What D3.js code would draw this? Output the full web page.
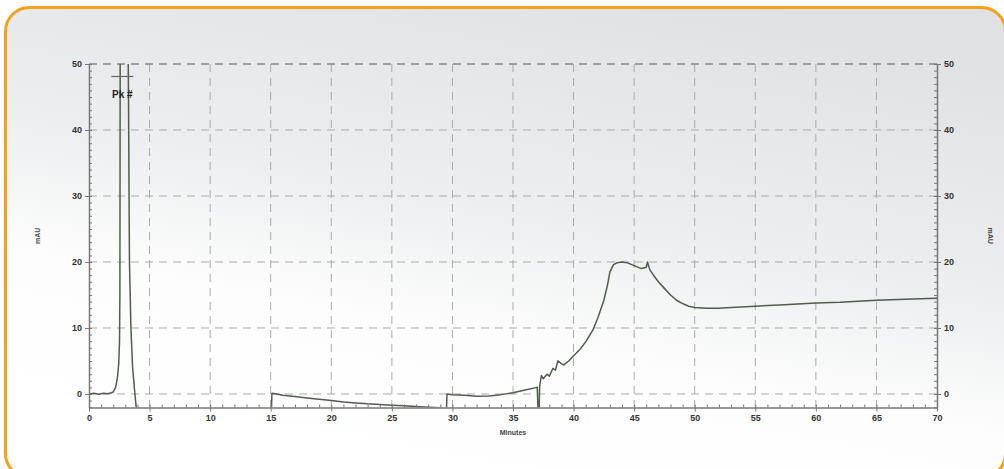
<!DOCTYPE html>
<html>
<head>
<meta charset="utf-8">
<script src="https://cdn.jsdelivr.net/npm/d3@7"></script>
<style>
  html, body { margin: 0; padding: 0; background: #fff; }
  svg { display: block; }
</style>
</head>
<body>
<svg id="chart" width="1004" height="469"></svg>
<script>
// chromatogram trace (minutes, mAU)
const minutes = [
  0, 0.4, 0.8, 1.2, 1.5, 1.8, 2.0, 2.2, 2.35, 2.45, 2.52, 2.55, 2.58,
  3.2, 3.26, 3.34, 3.46, 3.6, 3.79, 3.95,
  15.05, 15.1, 15.5, 16, 17, 18, 19, 20, 21, 22, 23, 24, 25, 26, 27, 28, 29,
  29.5, 29.55, 30, 31, 32, 33, 34, 35, 36, 37.0, 37.08, 37.15,
  37.2, 37.35, 37.5, 37.8, 38.0, 38.3, 38.5, 38.7, 39.0, 39.2, 39.6, 40.0,
  40.5, 41.0, 41.6, 42.0, 42.5, 42.8, 43.0, 43.3, 43.6, 44.0, 44.4, 44.8,
  45.2, 45.6, 46.0, 46.1, 46.3, 46.6, 47.0, 47.5, 48.0, 48.5, 49.0, 49.5,
  50, 51, 52, 53, 55, 57, 60, 62, 65, 68, 70,
];
const mAU = [
  0.0, 0.1, -0.05, 0.1, 0.05, 0.15, 0.3, 1.0, 2.5, 4.5, 8, 15, 60,
  60, 45, 20, 10, 4, 0, -3,
  -3, 0.1, 0.0, -0.2, -0.4, -0.6, -0.8, -1.0, -1.2, -1.35, -1.5, -1.6, -1.7, -1.8, -1.9, -2.0, -2.1,
  -3, 0.0, -0.1, -0.2, -0.35, -0.3, -0.1, 0.2, 0.6, 1.0, -3, -3,
  1.2, 2.8, 2.3, 3.0, 2.7, 3.9, 3.6, 5.0, 4.6, 4.4, 5.0, 5.8,
  6.7, 7.9, 9.7, 11.5, 14.2, 16.5, 18.5, 19.6, 19.9, 20.0, 19.9, 19.6,
  19.3, 19.0, 19.2, 20.0, 18.8, 18.0, 17.0, 16.0, 15.0, 14.2, 13.7, 13.3,
  13.1, 13.0, 13.0, 13.1, 13.3, 13.5, 13.8, 13.9, 14.2, 14.4, 14.5,
];
const xTicks = [0, 5, 10, 15, 20, 25, 30, 35, 40, 45, 50, 55, 60, 65, 70];
const yTicks = [0, 10, 20, 30, 40, 50];
const peakLabel = 'Pk #';
const peakMinute = 2.75;

const svg = d3.select('#chart');
const plotLeft = 89;
const plotRight = 937;
const plotTop = 64;
const plotBottom = 407.5;

const x = d3.scaleLinear().domain([0, 70]).range([plotLeft, plotRight]);
const y = d3.scaleLinear().domain([-2.05, 50]).range([plotBottom, plotTop]);

// panel background with orange rounded border
const defs = svg.append('defs');
const grad = defs.append('linearGradient')
  .attr('id', 'bg')
  .attr('x1', '0.75').attr('y1', '0')
  .attr('x2', '0.35').attr('y2', '1');
grad.append('stop').attr('offset', '0').attr('stop-color', '#dfe1e3');
grad.append('stop').attr('offset', '0.45').attr('stop-color', '#eceeef');
grad.append('stop').attr('offset', '0.7').attr('stop-color', '#fdfdfd');
grad.append('stop').attr('offset', '1').attr('stop-color', '#ffffff');

defs.append('clipPath').attr('id', 'plot-clip')
  .append('rect')
  .attr('x', plotLeft).attr('y', plotTop)
  .attr('width', plotRight - plotLeft).attr('height', plotBottom - plotTop);

svg.append('rect')
  .attr('x', 5.5).attr('y', 7.5)
  .attr('width', 1000).attr('height', 470)
  .attr('rx', 24)
  .attr('fill', 'url(#bg)')
  .attr('stroke', '#f6a11c')
  .attr('stroke-width', 3);

// grid
const grid = svg.append('g').attr('class', 'grid');
grid.selectAll('line.v')
  .data(xTicks.filter(d => d > 0 && d < 70))
  .enter().append('line')
  .attr('class', 'v')
  .attr('x1', d => x(d)).attr('x2', d => x(d))
  .attr('y1', plotTop).attr('y2', plotBottom)
  .attr('stroke', '#aaa')
  .attr('stroke-width', 1)
  .attr('stroke-dasharray', '8,6');
grid.selectAll('line.h')
  .data(yTicks)
  .enter().append('line')
  .attr('class', 'h')
  .attr('x1', plotLeft).attr('x2', plotRight)
  .attr('y1', d => y(d)).attr('y2', d => y(d))
  .attr('stroke', d => (d === 50 ? '#888' : '#aaa'))
  .attr('stroke-width', d => (d === 50 ? 1.5 : 1))
  .attr('stroke-dasharray', '8,6');

// trace
const points = minutes.map((m, i) => [m, mAU[i]]);
const line = d3.line()
  .x(d => x(d[0]))
  .y(d => y(d[1]));
svg.append('path')
  .datum(points)
  .attr('clip-path', 'url(#plot-clip)')
  .attr('d', line)
  .attr('fill', 'none')
  .attr('stroke', '#4f5d4c')
  .attr('stroke-width', 1.5)
  .attr('stroke-linejoin', 'round');

// axes
const axisColor = '#777';
const fontFamily = '"Liberation Sans", Arial, sans-serif';

const styleAxis = (g) => {
  g.select('.domain').attr('stroke', axisColor).attr('stroke-width', 1.5);
  g.selectAll('.tick line').attr('stroke', axisColor);
  g.selectAll('.tick text')
    .attr('fill', '#333')
    .attr('font-family', fontFamily)
    .attr('font-weight', 'bold')
    .attr('font-size', 9);
};

const xMinor = svg.append('g')
  .attr('transform', `translate(0, ${plotBottom})`)
  .call(d3.axisTop(x).ticks(70).tickSize(3).tickFormat('').tickSizeOuter(0));
xMinor.select('.domain').remove();
xMinor.selectAll('.tick line').attr('stroke', axisColor);

const xAxis = svg.append('g')
  .attr('transform', `translate(0, ${plotBottom})`)
  .call(d3.axisBottom(x).tickValues(xTicks).tickSize(4).tickPadding(3).tickSizeOuter(0));
styleAxis(xAxis);

const yMinorVals = d3.range(-2, 51);
const yMinorL = svg.append('g')
  .attr('transform', `translate(${plotLeft}, 0)`)
  .call(d3.axisRight(y).tickValues(yMinorVals).tickSize(3).tickFormat('').tickSizeOuter(0));
yMinorL.select('.domain').remove();
yMinorL.selectAll('.tick line').attr('stroke', axisColor);

const yMinorR = svg.append('g')
  .attr('transform', `translate(${plotRight}, 0)`)
  .call(d3.axisLeft(y).tickValues(yMinorVals).tickSize(3).tickFormat('').tickSizeOuter(0));
yMinorR.select('.domain').remove();
yMinorR.selectAll('.tick line').attr('stroke', axisColor);

const yLeft = svg.append('g')
  .attr('transform', `translate(${plotLeft}, 0)`)
  .call(d3.axisLeft(y).tickValues(yTicks).tickSize(4).tickPadding(3).tickSizeOuter(0));
styleAxis(yLeft);

const yRight = svg.append('g')
  .attr('transform', `translate(${plotRight}, 0)`)
  .call(d3.axisRight(y).tickValues(yTicks).tickSize(4).tickPadding(3).tickSizeOuter(0));
styleAxis(yRight);

// axis titles
const titleStyle = sel => sel
  .attr('fill', '#444')
  .attr('font-family', fontFamily)
  .attr('font-weight', 'bold')
  .attr('font-size', 7)
  .attr('text-anchor', 'middle');

svg.append('text')
  .attr('transform', `translate(40, ${(plotTop + plotBottom) / 2}) rotate(-90)`)
  .call(titleStyle)
  .text('mAU');
svg.append('text')
  .attr('transform', `translate(988, ${(plotTop + plotBottom) / 2}) rotate(90)`)
  .call(titleStyle)
  .text('mAU');
svg.append('text')
  .attr('x', (plotLeft + plotRight) / 2)
  .attr('y', 435)
  .call(titleStyle)
  .text('Minutes');

// peak marker
const pk = svg.append('g');
pk.append('line')
  .attr('x1', x(peakMinute) - 11).attr('x2', x(peakMinute) + 11)
  .attr('y1', 76.5).attr('y2', 76.5)
  .attr('stroke', '#666')
  .attr('stroke-width', 1.2);
pk.append('text')
  .attr('x', x(peakMinute))
  .attr('y', 98)
  .attr('text-anchor', 'middle')
  .attr('fill', '#222')
  .attr('font-family', fontFamily)
  .attr('font-weight', 'bold')
  .attr('font-size', 10)
  .text(peakLabel);
</script>
</body>
</html>
